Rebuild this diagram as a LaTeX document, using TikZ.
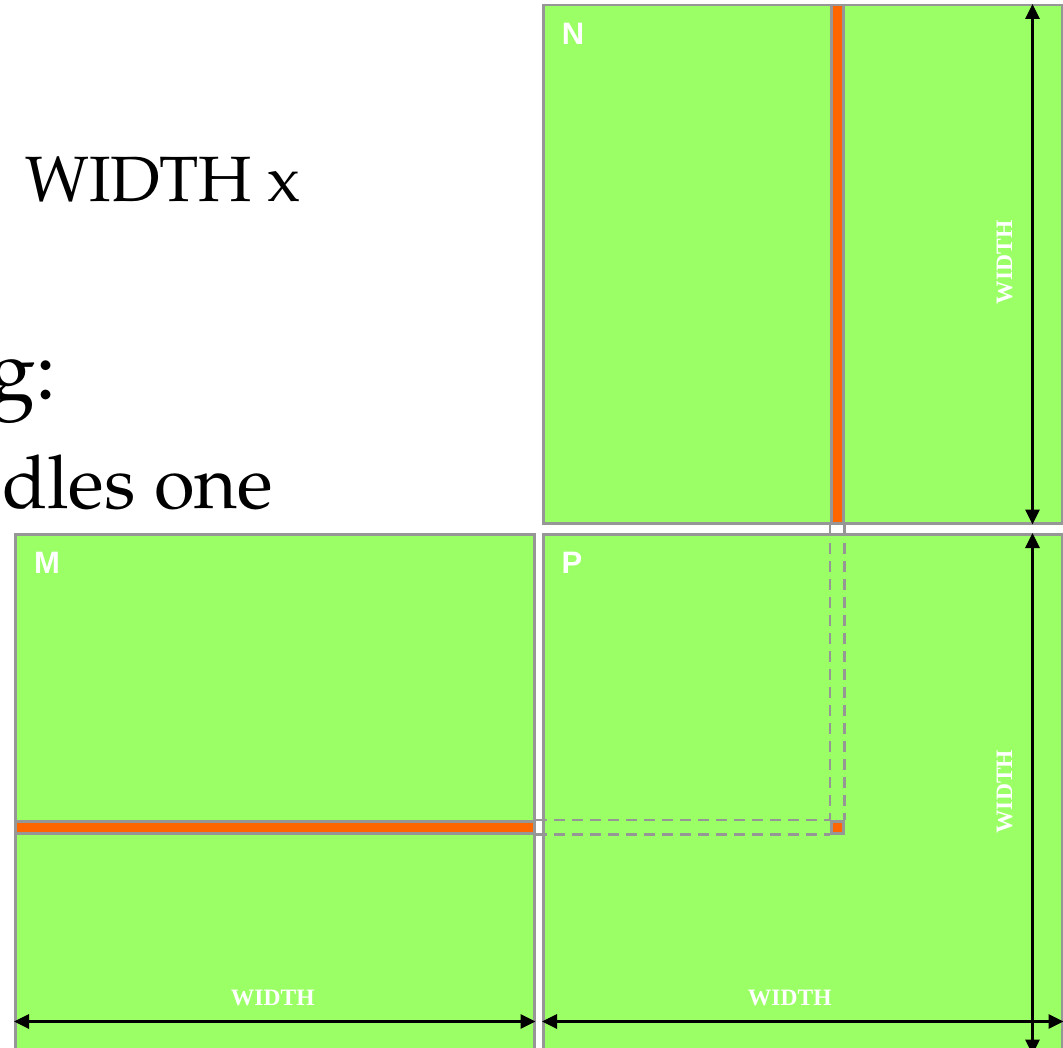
\documentclass[tikz,border=0pt]{standalone}
\usepackage{fontspec}
\setmainfont{TeX Gyre Pagella}
\newfontfamily\labelsans{Liberation Sans}
\newfontfamily\labelserif{Liberation Serif}
\usetikzlibrary{arrows.meta}
\definecolor{matgreen}{RGB}{155,255,102}
\definecolor{edgegray}{RGB}{150,150,150}
\definecolor{stripe}{RGB}{255,102,0}
\begin{document}
\begin{tikzpicture}[x=1pt,y=-1pt,
  matbox/.style={draw=edgegray,line width=2.5pt,fill=matgreen,inner sep=0pt,
    minimum width=519pt,minimum height=518pt,anchor=north west},
  stripbox/.style={draw=edgegray,line width=2.5pt,fill=stripe,inner sep=0pt,anchor=north west},
  ghost/.style={draw=edgegray,line width=2.5pt,dash pattern=on 11pt off 7pt},
  dimline/.style={line width=2.8pt,{Triangle[length=15pt,width=14pt]}-{Triangle[length=15pt,width=14pt]}},
  dimtext/.style={text=white,inner sep=0pt,font=\labelserif\bfseries\fontsize{23.5}{25}\selectfont},
  mattext/.style={text=white,inner sep=0pt,font=\labelsans\bfseries\fontsize{31}{33}\selectfont},
  bodytext/.style={inner sep=0pt,text=black}]
\useasboundingbox (0,0) rectangle (1063,1048);

% body text (partly cut by the page edge, as in the reference)
\node[bodytext,anchor=base west,font=\fontsize{64}{70}\selectfont] (t1) at (25,202) {WIDTH x};
\node[bodytext,anchor=base east,font=\fontsize{85}{90}\selectfont] (t2) at (57,400) {g:};
\node[bodytext,anchor=base west,font=\fontsize{74}{80}\selectfont] (t3) at (2,508) {dles one};

% matrices
\node[matbox] (N) at (542,4) {};
\node[matbox,minimum height=519pt] (M) at (14,533) {};
\node[matbox,minimum height=519pt] (P) at (542,533) {};

% orange strips
\node[stripbox,minimum width=12pt,minimum height=518pt] (col) at (830,4) {};
\node[stripbox,minimum width=519pt,minimum height=12pt] (row) at (14,820) {};

% dashed guides
\node[stripbox,minimum width=12pt,minimum height=12pt] (sq) at (830,820) {};
\draw[ghost] (col.south west) -- (sq.north west);
\draw[ghost] (col.south east) -- (sq.north east);
\draw[ghost] (row.north east) -- (sq.north west);
\draw[ghost] (row.south east) -- (sq.south west);
\node[stripbox,minimum width=12pt,minimum height=12pt] at (830,820) {};

% dimension arrows
\draw[dimline] ([xshift=-31pt]N.north east) -- ([xshift=-31pt]N.south east);
\draw[dimline] ([xshift=-31pt]P.north east) -- ([xshift=-31pt]P.south east);
\draw[dimline] ([yshift=33pt]M.south west) -- ([yshift=33pt]M.south east);
\draw[dimline] ([yshift=33pt]P.south west) -- ([yshift=33pt]P.south east);

% dimension labels
\node[dimtext,rotate=90] (wN) at ([xshift=-59pt,yshift=2pt]N.east) {WIDTH};
\node[dimtext,rotate=90] (wP) at ([xshift=-59pt,yshift=2pt]P.east) {WIDTH};
\node[dimtext] (wM) at ([xshift=-2pt,yshift=57pt]M.south) {WIDTH};
\node[dimtext] (wP2) at ([xshift=-13pt,yshift=57pt]P.south) {WIDTH};

% matrix names
\node[mattext] (lN) at ([xshift=31pt,yshift=-30pt]N.north west) {N};
\node[mattext] (lM) at ([xshift=33pt,yshift=-30pt]M.north west) {M};
\node[mattext] (lP) at ([xshift=30pt,yshift=-30pt]P.north west) {P};
\end{tikzpicture}
\end{document}
